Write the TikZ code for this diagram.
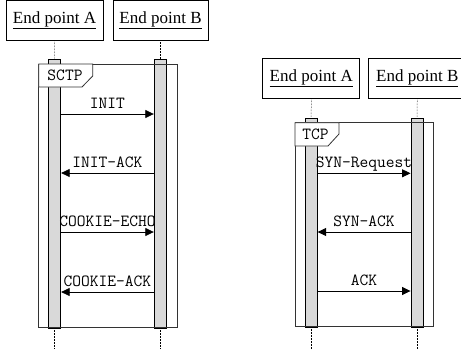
\documentclass[tikz,border=0pt]{standalone}
\usepackage{fontspec}
\setmainfont{Liberation Serif}
\usepackage{tikz}
\usetikzlibrary{arrows.meta,calc,positioning}
\definecolor{barFill}{HTML}{D9D9D9}
\definecolor{frameLine}{HTML}{333333}

\begin{document}
\begin{tikzpicture}[x=1pt,y=-1pt,>=Latex]
  \tikzset{
    party/.style={draw,line width=.8pt,minimum width=97pt,minimum height=40pt,inner sep=0pt,font=\fontsize{17}{20}\selectfont},
    actbar/.style={draw,fill=barFill,line width=.9pt,minimum width=12pt,inner sep=0pt},
    life/.style={densely dotted,line width=.5pt},
    frm/.style={draw=frameLine,line width=.8pt},
    msg/.style={line width=.8pt,-{Triangle[length=8.5pt,width=8pt]}},
    lbl/.style={font=\ttfamily\fontsize{17}{19}\selectfont,midway,anchor=base,yshift=5.5pt,inner sep=0pt}
  }
  \useasboundingbox (0,0) rectangle (461,351);
  % SCTP
  \node[party] (epA1) at (54.5,20) {\underline{End point A}};
  \node[party,minimum width=95pt] (epB1) at (160.5,20) {\underline{End point B}};
  \node[actbar,minimum height=269pt] (barA1) at (54.7,193.5) {};
  \node[actbar,minimum height=269pt,minimum width=12.5pt] (barB1) at (160.5,193.5) {};
  \coordinate (endA1) at (54.7,349);
  \coordinate (endB1) at (160.5,349);
  \draw[life] (epA1.south) -- (barA1.north);
  \draw[life] (epB1.south) -- (barB1.north);
  \draw[life] (barA1.south) -- (endA1);
  \draw[life] (barB1.south) -- (endB1);
  \draw[frm] (38.7,64) rectangle (177,327);
  \draw[frm,fill=white] (38.7,64) -- (92.7,64) -- (92.7,76) -- (82,87) -- (38.7,87) -- cycle;
  \node[font=\ttfamily\fontsize{17}{19}\selectfont] (sctp) at (65,75.5) {SCTP};
  \draw[msg] (barA1.east |- 0,114) -- node[lbl] {INIT} (barB1.west |- 0,114);
  \draw[msg] (barB1.west |- 0,173) -- node[lbl] {INIT-ACK} (barA1.east |- 0,173);
  \draw[msg] (barA1.east |- 0,232) -- node[lbl] {COOKIE-ECHO} (barB1.west |- 0,232);
  \draw[msg] (barB1.west |- 0,292) -- node[lbl] {COOKIE-ACK} (barA1.east |- 0,292);
  % TCP
  \node[party] (epA2) at (311.3,78) {\underline{End point A}};
  \node[party] (epB2) at (417.3,78) {\underline{End point B}};
  \node[actbar,minimum height=209pt] (barA2) at (311.2,222.5) {};
  \node[actbar,minimum height=209pt] (barB2) at (417,222.5) {};
  \coordinate (endA2) at (311.2,349);
  \coordinate (endB2) at (417,349);
  \draw[life] (epA2.south) -- (barA2.north);
  \draw[life] (epB2.south) -- (barB2.north);
  \draw[life] (barA2.south) -- (endA2);
  \draw[life] (barB2.south) -- (endB2);
  \draw[frm] (295,122.7) rectangle (433.3,326.7);
  \draw[frm,fill=white] (295,122.7) -- (339,122.7) -- (339,134) -- (328,146) -- (295,146) -- cycle;
  \node[font=\ttfamily\fontsize{17}{19}\selectfont] (tcp) at (315.5,134.3) {TCP};
  \draw[msg] (barA2.east |- 0,173.3) -- node[lbl] {SYN-Request} (barB2.west |- 0,173.3);
  \draw[msg] (barB2.west |- 0,232) -- node[lbl] {SYN-ACK} (barA2.east |- 0,232);
  \draw[msg] (barA2.east |- 0,291) -- node[lbl] {ACK} (barB2.west |- 0,291);
\end{tikzpicture}
\end{document}
